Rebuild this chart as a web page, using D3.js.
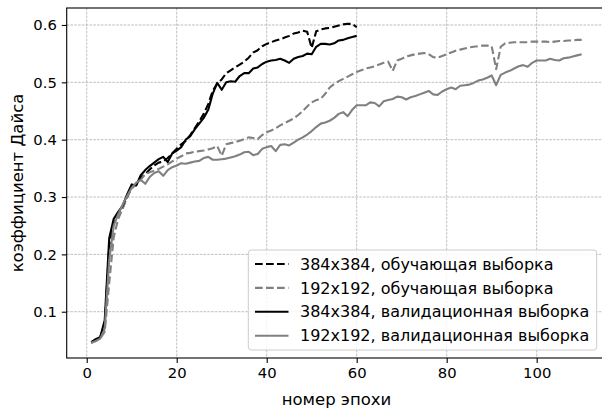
<!DOCTYPE html>
<html>
<head>
<meta charset="utf-8">
<script src="https://cdn.jsdelivr.net/npm/d3@7"></script>
<style>
  html, body { margin: 0; padding: 0; background: #fff; }
  svg { display: block; font-family: "DejaVu Sans", sans-serif; }
</style>
</head>
<body>
<svg id="chart" width="602" height="410"></svg>
<script>
// Dice coefficient per epoch for two input resolutions, train and validation
const epochs384 = d3.range(1, 61);
const epochs192 = d3.range(1, 111);

const train384 = [
  0.047, 0.052, 0.056, 0.075, 0.215, 0.255, 0.272, 0.282, 0.300, 0.318,
  0.322, 0.333, 0.340, 0.348, 0.355, 0.360, 0.362, 0.368, 0.376, 0.384,
  0.392, 0.398, 0.408, 0.420, 0.432, 0.445, 0.462, 0.485, 0.498, 0.505,
  0.516, 0.521, 0.526, 0.531, 0.536, 0.543, 0.552, 0.556, 0.563, 0.567,
  0.570, 0.573, 0.575, 0.578, 0.581, 0.585, 0.587, 0.590, 0.588, 0.560,
  0.589, 0.592, 0.594, 0.595, 0.597, 0.599, 0.601, 0.602, 0.602, 0.596
];

const val384 = [
  0.046, 0.051, 0.056, 0.085, 0.228, 0.262, 0.274, 0.285, 0.305, 0.322,
  0.320, 0.338, 0.347, 0.354, 0.360, 0.366, 0.370, 0.361, 0.376, 0.381,
  0.387, 0.400, 0.406, 0.418, 0.428, 0.438, 0.452, 0.480, 0.499, 0.487,
  0.500, 0.502, 0.501, 0.511, 0.516, 0.516, 0.524, 0.526, 0.532, 0.536,
  0.538, 0.539, 0.541, 0.538, 0.534, 0.541, 0.544, 0.546, 0.550, 0.549,
  0.562, 0.567, 0.567, 0.566, 0.568, 0.573, 0.574, 0.577, 0.579, 0.581
];

const train192 = [
  0.046, 0.049, 0.053, 0.065, 0.150, 0.230, 0.262, 0.280, 0.300, 0.315,
  0.322, 0.330, 0.340, 0.343, 0.346, 0.349, 0.353, 0.357, 0.362, 0.367,
  0.371, 0.376, 0.377, 0.379, 0.380, 0.381, 0.383, 0.385, 0.389, 0.372,
  0.392, 0.394, 0.396, 0.398, 0.401, 0.404, 0.403, 0.401, 0.408, 0.413,
  0.416, 0.420, 0.425, 0.429, 0.433, 0.437, 0.443, 0.450, 0.458, 0.465,
  0.469, 0.471, 0.480, 0.491, 0.497, 0.502, 0.506, 0.510, 0.514, 0.518,
  0.521, 0.524, 0.526, 0.528, 0.531, 0.534, 0.536, 0.520, 0.538, 0.541,
  0.545, 0.547, 0.549, 0.550, 0.551, 0.549, 0.544, 0.543, 0.546, 0.549,
  0.552, 0.555, 0.557, 0.559, 0.561, 0.562, 0.563, 0.564, 0.564, 0.563,
  0.523, 0.562, 0.568, 0.569, 0.570, 0.570, 0.570, 0.570, 0.571, 0.571,
  0.571, 0.571, 0.570, 0.571, 0.572, 0.572, 0.573, 0.573, 0.574, 0.574
];

const val192 = [
  0.046, 0.049, 0.053, 0.070, 0.190, 0.250, 0.270, 0.287, 0.302, 0.316,
  0.325, 0.330, 0.323, 0.335, 0.342, 0.345, 0.337, 0.347, 0.352, 0.355,
  0.359, 0.358, 0.360, 0.362, 0.363, 0.368, 0.370, 0.365, 0.365, 0.366,
  0.367, 0.369, 0.371, 0.374, 0.378, 0.379, 0.373, 0.375, 0.384, 0.387,
  0.389, 0.380, 0.391, 0.392, 0.390, 0.395, 0.400, 0.404, 0.409, 0.415,
  0.422, 0.428, 0.430, 0.433, 0.438, 0.445, 0.448, 0.441, 0.452, 0.460,
  0.460, 0.460, 0.465, 0.464, 0.458, 0.467, 0.469, 0.471, 0.475, 0.474,
  0.470, 0.474, 0.476, 0.479, 0.482, 0.485, 0.479, 0.478, 0.484, 0.488,
  0.491, 0.488, 0.494, 0.495, 0.496, 0.499, 0.503, 0.505, 0.508, 0.512,
  0.495, 0.513, 0.517, 0.520, 0.524, 0.528, 0.530, 0.527, 0.534, 0.538,
  0.538, 0.538, 0.541, 0.539, 0.538, 0.542, 0.543, 0.545, 0.547, 0.549
];

const seriesNames = [
  "384x384, обучающая выборка",
  "192x192, обучающая выборка",
  "384x384, валидационная выборка",
  "192x192, валидационная выборка"
];
const xTicks = [0, 20, 40, 60, 80, 100];
const yTicks = [0.1, 0.2, 0.3, 0.4, 0.5, 0.6];
const xLabel = "номер эпохи";
const yLabel = "коэффициент Дайса";

const series = [
  { name: seriesNames[0], x: epochs384, y: train384, color: "#000000", dash: "7.7,3.3" },
  { name: seriesNames[1], x: epochs192, y: train192, color: "#808080", dash: "7.7,3.3" },
  { name: seriesNames[2], x: epochs384, y: val384,   color: "#000000", dash: null },
  { name: seriesNames[3], x: epochs192, y: val192,   color: "#808080", dash: null }
];

const svg = d3.select("#chart");
const plot = { left: 66.7, right: 606.2, top: 8, bottom: 358 };

const x = d3.scaleLinear().domain([-4.45, 115.45]).range([plot.left, plot.right]);
const y = d3.scaleLinear().domain([0.0193, 0.6296]).range([plot.bottom, plot.top]);

// grid
const grid = svg.append("g").attr("class", "grid");
grid.selectAll("line.gx").data(xTicks).join("line")
  .attr("x1", d => x(d)).attr("x2", d => x(d))
  .attr("y1", plot.top).attr("y2", plot.bottom)
  .attr("stroke", "#a8a8a8").attr("stroke-width", 0.75).attr("stroke-dasharray", "2.6,1.2");
grid.selectAll("line.gy").data(yTicks).join("line")
  .attr("x1", plot.left).attr("x2", plot.right)
  .attr("y1", d => y(d)).attr("y2", d => y(d))
  .attr("stroke", "#a8a8a8").attr("stroke-width", 0.75).attr("stroke-dasharray", "2.6,1.2");

// series lines
const line = d3.line().x(d => x(d[0])).y(d => y(d[1]));
series.forEach(s => {
  svg.append("path")
    .datum(s.x.map((e, i) => [e, s.y[i]]))
    .attr("d", line)
    .attr("fill", "none")
    .attr("stroke", s.color)
    .attr("stroke-width", 2.1)
    .attr("stroke-linejoin", "round")
    .attr("stroke-linecap", "butt")
    .attr("stroke-dasharray", s.dash);
});

// axes
const xAxis = d3.axisBottom(x).tickValues(xTicks).tickFormat(d3.format("d")).tickSizeOuter(0).tickSize(4.9).tickPadding(4.9);
const yAxis = d3.axisLeft(y).tickValues(yTicks).tickFormat(d3.format(".1f")).tickSizeOuter(0).tickSize(4.9).tickPadding(4.9);

const gx = svg.append("g").attr("transform", `translate(0,${plot.bottom})`).call(xAxis);
const gy = svg.append("g").attr("transform", `translate(${plot.left},0)`).call(yAxis);
[gx, gy].forEach(g => {
  g.select(".domain").remove();
  g.selectAll(".tick line").attr("stroke", "#000").attr("stroke-width", 1.1);
  g.selectAll(".tick text").attr("fill", "#000").attr("font-size", 14.8)
    .attr("font-family", "DejaVu Sans, sans-serif");
});

// frame
svg.append("rect")
  .attr("x", plot.left).attr("y", plot.top)
  .attr("width", plot.right - plot.left).attr("height", plot.bottom - plot.top)
  .attr("fill", "none").attr("stroke", "#000").attr("stroke-width", 1.1);

// axis titles
svg.append("text")
  .attr("x", 336.5).attr("y", 404.5)
  .attr("text-anchor", "middle").attr("font-size", 16.5).attr("fill", "#000")
  .text(xLabel);
svg.append("text")
  .attr("transform", `translate(23,${(plot.top + plot.bottom) / 2}) rotate(-90)`)
  .attr("text-anchor", "middle").attr("font-size", 16.5).attr("fill", "#000")
  .text(yLabel);

// legend
const legend = svg.append("g");
legend.append("rect")
  .attr("x", 248.3).attr("y", 250).attr("width", 348.4).attr("height", 100)
  .attr("rx", 3).attr("fill", "#fff").attr("fill-opacity", 0.8)
  .attr("stroke", "#cccccc").attr("stroke-width", 1);
series.forEach((s, i) => {
  const cy = 264 + i * 23.9;
  legend.append("line")
    .attr("x1", 255).attr("x2", 288.5).attr("y1", cy).attr("y2", cy)
    .attr("stroke", s.color).attr("stroke-width", 2.1)
    .attr("stroke-dasharray", s.dash);
  legend.append("text")
    .attr("x", 300).attr("y", cy).attr("dy", "0.35em")
    .attr("font-size", 16).attr("fill", "#000")
    .text(s.name);
});
</script>
</body>
</html>
